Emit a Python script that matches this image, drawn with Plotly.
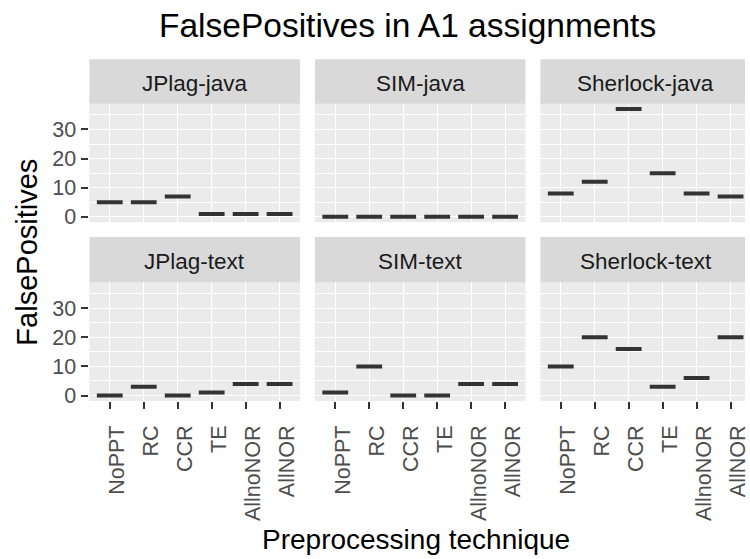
import plotly.graph_objects as go

# ---- data ----
techniques = ["NoPPT", "RC", "CCR", "TE", "AllnoNOR", "AllNOR"]
panels = ["JPlag-java", "SIM-java", "Sherlock-java", "JPlag-text", "SIM-text", "Sherlock-text"]
jplag_java = [5, 5, 7, 1, 1, 1]
sim_java = [0, 0, 0, 0, 0, 0]
sherlock_java = [8, 12, 37, 15, 8, 7]
jplag_text = [0, 3, 0, 1, 4, 4]
sim_text = [1, 10, 0, 0, 4, 4]
sherlock_text = [10, 20, 16, 3, 6, 20]
y_ticks = [0, 10, 20, 30]
values = [jplag_java, sim_java, sherlock_java, jplag_text, sim_text, sherlock_text]

title = "FalsePositives in A1 assignments"
x_title = "Preprocessing technique"
y_title = "FalsePositives"

# ---- geometry (pixels) ----
W, H = 750, 559
def fx(px):
    return px / W
def fy(py):
    return 1 - py / H

col_px = [(90, 302), (317, 529), (544, 756)]
row_plot = [(105, 225), (286, 406)]
row_strip = [(60, 105), (240, 286)]
label_shift_px = 7.5  # rotated labels sit slightly right of their tick

all_vals = [v for s in values for v in s]
vmin, vmax = min(all_vals), max(all_vals)
pad = (vmax - vmin) * 0.05
y_range = [vmin - pad, vmax + pad]
n = len(techniques)
x_full = [-0.6, n - 1 + 0.6]

fig = go.Figure()
layout = dict(
    width=W, height=H,
    margin=dict(l=0, r=0, t=0, b=0),
    paper_bgcolor="white",
    plot_bgcolor="#EBEBEB",
    showlegend=False,
    font=dict(family="Liberation Sans, Arial, sans-serif"),
    shapes=[], annotations=[],
)

half = 0.38
tick_font = dict(size=21.5, color="#4D4D4D")
for k, (name, vals) in enumerate(zip(panels, values)):
    r, c = divmod(k, 3)
    xs, ys = [], []
    for i, v in enumerate(vals):
        xs += [i - half, i + half, None]
        ys += [v, v, None]
    sfx = "" if k == 0 else str(k + 1)
    fig.add_trace(go.Scatter(
        x=xs, y=ys, mode="lines",
        line=dict(color="#333333", width=4),
        xaxis="x" + sfx, yaxis="y" + sfx, hoverinfo="skip",
    ))
    x0p, x1p = col_px[c]
    vis_right = min(x1p, W)
    ppu = (x1p - x0p) / (x_full[1] - x_full[0])
    xr = [x_full[0], x_full[0] + (vis_right - x0p) / ppu]
    y0p, y1p = row_plot[r]
    layout["xaxis" + sfx] = dict(
        domain=[fx(x0p), fx(vis_right)], anchor="y" + sfx, range=xr,
        tickmode="array", tickvals=list(range(n)), ticktext=techniques,
        showticklabels=False, ticks="outside" if r == 1 else "",
        ticklen=7, tickwidth=2, tickcolor="#333333",
        showgrid=True, gridcolor="white", gridwidth=1.2,
        zeroline=False, showline=False, fixedrange=True,
    )
    layout["yaxis" + sfx] = dict(
        domain=[fy(y1p), fy(y0p)], anchor="x" + sfx, range=y_range,
        tickmode="array", tickvals=y_ticks,
        showticklabels=(c == 0), ticks="outside" if c == 0 else "",
        ticklen=7, tickwidth=2, tickcolor="#333333",
        ticklabelstandoff=1,
        tickfont=tick_font,
        showgrid=True, gridcolor="white", gridwidth=1.2,
        minor=dict(tickvals=[5, 15, 25, 35], showgrid=True, gridcolor="white", gridwidth=0.6),
        zeroline=False, showline=False, fixedrange=True,
    )
    if r == 1:
        # label-only overlay axis for the rotated category labels
        lab = str(k + 7)
        shift = label_shift_px / ppu
        layout["xaxis" + lab] = dict(
            domain=[fx(x0p), fx(vis_right)], anchor="y" + sfx, overlaying="x" + sfx,
            range=xr, side="bottom",
            tickmode="array", tickvals=[i + shift for i in range(n)], ticktext=techniques,
            showticklabels=True, ticks="outside", ticklen=7, tickcolor="rgba(0,0,0,0)",
            tickangle=-90, ticklabelstandoff=8, ticklabeloverflow="allow",
            tickfont=tick_font,
            showgrid=False, zeroline=False, showline=False, fixedrange=True,
        )
        fig.add_trace(go.Scatter(
            x=[None], y=[None], mode="lines", xaxis="x" + lab, yaxis="y" + sfx,
            hoverinfo="skip", showlegend=False,
        ))
    s0, s1 = row_strip[r]
    layout["shapes"].append(dict(
        type="rect", xref="paper", yref="paper",
        x0=fx(x0p), x1=min(fx(x1p), 1.0), y0=fy(s1), y1=fy(s0),
        fillcolor="#D9D9D9", line=dict(width=0), layer="below",
    ))
    layout["annotations"].append(dict(
        text=name, xref="paper", yref="paper",
        x=fx((x0p + x1p) / 2), y=fy((s0 + s1) / 2 + 2),
        xanchor="center", yanchor="middle", showarrow=False,
        font=dict(size=22.5, color="#1A1A1A"),
    ))

layout["annotations"] += [
    dict(text=title, xref="paper", yref="paper", x=fx(410), y=fy(26),
         xanchor="center", yanchor="middle", showarrow=False,
         font=dict(size=33.5, color="black")),
    dict(text=x_title, xref="paper", yref="paper", x=fx(419), y=fy(546),
         xanchor="center", yanchor="middle", showarrow=False,
         font=dict(size=28, color="black")),
    dict(text=y_title, xref="paper", yref="paper", x=fx(27), y=fy(255),
         xanchor="center", yanchor="middle", showarrow=False, textangle=-90,
         font=dict(size=29, color="black")),
]

fig.update_layout(**layout)
fig.write_html(
    "out.html",
    config={"displayModeBar": False},
    post_script="document.body.style.margin='0px';document.body.style.overflow='hidden';",
)
